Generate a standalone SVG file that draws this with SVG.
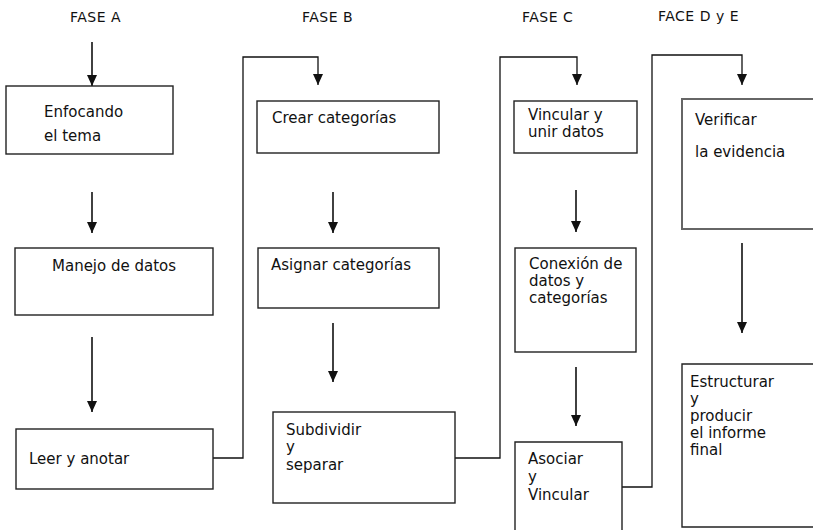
<svg xmlns="http://www.w3.org/2000/svg" width="813" height="530" viewBox="0 0 813 530">
<style>
.bg{fill:#ffffff}
.box{fill:none;stroke:#222;stroke-width:1.4}
.box2{fill:none;stroke:#666;stroke-width:2}
.con{fill:none;stroke:#111;stroke-width:1.3}
.arr{fill:none;stroke:#111;stroke-width:1.6}
.t{font-family:"DejaVu Sans","Verdana",sans-serif;font-size:15px;fill:#111}
.h{font-family:"DejaVu Sans","Verdana",sans-serif;font-size:14px;letter-spacing:0.5px;fill:#111}
</style>
<defs>
<marker id="ah" markerUnits="userSpaceOnUse" markerWidth="11" markerHeight="10" viewBox="0 0 11 10" refX="11" refY="5" orient="auto">
<path d="M0,0 L11,5 L0,10 z" fill="#111"/>
</marker>
</defs>
<rect class="bg" x="0" y="0" width="813" height="530"/>

<g id="headings">
<text class="h" x="70" y="22">FASE A</text>
<text class="h" x="302" y="22">FASE B</text>
<text class="h" x="522" y="22">FASE C</text>
<text class="h" x="658" y="21">FACE D y E</text>
</g>

<g id="connectors">
<path class="con" d="M213,458 H243 V57 H318 V85" marker-end="url(#ah)"/>
<path class="con" d="M455,458 H500 V57 H577 V85" marker-end="url(#ah)"/>
<path class="con" d="M622,487 H652 V55 H742 V85" marker-end="url(#ah)"/>
<path class="arr" d="M92,42 V86" marker-end="url(#ah)"/>
<path class="arr" d="M92,192 V233" marker-end="url(#ah)"/>
<path class="arr" d="M92,337 V412" marker-end="url(#ah)"/>
<path class="arr" d="M333,192 V233" marker-end="url(#ah)"/>
<path class="arr" d="M333,323 V382" marker-end="url(#ah)"/>
<path class="arr" d="M576,190 V232" marker-end="url(#ah)"/>
<path class="arr" d="M576,367 V426" marker-end="url(#ah)"/>
<path class="arr" d="M742,243 V333" marker-end="url(#ah)"/>
</g>

<g id="a1">
<rect class="box" x="6" y="86" width="167" height="68"/>
<text class="t" x="44" y="117">Enfocando</text>
<text class="t" x="44" y="141">el tema</text>
</g>
<g id="a2">
<rect class="box" x="15" y="248" width="198" height="67"/>
<text class="t" x="52" y="271">Manejo de datos</text>
</g>
<g id="a3">
<rect class="box" x="16" y="429" width="197" height="60"/>
<text class="t" x="29" y="464">Leer y anotar</text>
</g>

<g id="b1">
<rect class="box" x="257" y="101" width="182" height="52"/>
<text class="t" x="272" y="123">Crear categorías</text>
</g>
<g id="b2">
<rect class="box" x="258" y="248" width="181" height="60"/>
<text class="t" x="271" y="270">Asignar categorías</text>
</g>
<g id="b3">
<rect class="box" x="273" y="412" width="182" height="91"/>
<text class="t" x="286" y="435">Subdividir</text>
<text class="t" x="286" y="452">y</text>
<text class="t" x="286" y="470">separar</text>
</g>

<g id="c1">
<rect class="box" x="514" y="101" width="123" height="52"/>
<text class="t" x="528" y="120">Vincular y</text>
<text class="t" x="528" y="137">unir datos</text>
</g>
<g id="c2">
<rect class="box" x="515" y="248" width="121" height="104"/>
<text class="t" x="529" y="269">Conexión de</text>
<text class="t" x="529" y="286">datos y</text>
<text class="t" x="529" y="303">categorías</text>
</g>
<g id="c3">
<path class="box" d="M515,532 V442 H622 V532"/>
<text class="t" x="528" y="464">Asociar</text>
<text class="t" x="528" y="482">y</text>
<text class="t" x="528" y="500">Vincular</text>
</g>

<g id="d1">
<path class="box2" d="M815,99 H682 V229 H815"/>
<text class="t" x="695" y="125">Verificar</text>
<text class="t" x="695" y="157">la evidencia</text>
</g>
<g id="d2">
<path class="box" d="M815,364 H682 V527 H815"/>
<text class="t" x="690" y="387">Estructurar</text>
<text class="t" x="690" y="404">y</text>
<text class="t" x="690" y="421">producir</text>
<text class="t" x="690" y="438">el informe</text>
<text class="t" x="690" y="455">final</text>
</g>
</svg>
